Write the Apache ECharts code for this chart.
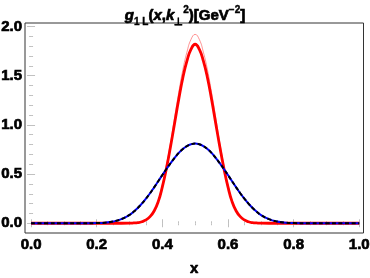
<!DOCTYPE html>
<html><head><meta charset="utf-8">
<script src="https://cdn.jsdelivr.net/npm/echarts@6/dist/echarts.min.js"></script>
<style>html,body{margin:0;padding:0;background:#fff}#c{width:370px;height:278px}</style>
</head><body><div id="c"></div>
<script>
const xs = [0, 0.05, 0.1, 0.15, 0.2, 0.225, 0.25, 0.275, 0.3, 0.3125, 0.325, 0.3375, 0.35, 0.3625, 0.375, 0.3875, 0.4, 0.4125, 0.425, 0.4375, 0.45, 0.4625, 0.475, 0.4875, 0.5,
  0.5125, 0.525, 0.5375, 0.55, 0.5625, 0.575, 0.5875, 0.6, 0.6125, 0.625, 0.6375, 0.65, 0.6625, 0.675, 0.6875, 0.7, 0.725, 0.75, 0.775, 0.8, 0.85, 0.9, 0.95, 1];
const redThick = [0, 0, 0, 0, 0, 0, 0, 0, 0.001, 0.003, 0.006, 0.015, 0.034, 0.068, 0.125, 0.22, 0.37, 0.56, 0.78, 1.02, 1.26, 1.48, 1.65, 1.77, 1.82,
  1.77, 1.65, 1.48, 1.26, 1.02, 0.78, 0.56, 0.37, 0.22, 0.125, 0.068, 0.034, 0.015, 0.006, 0.003, 0.001, 0, 0, 0, 0, 0, 0, 0, 0];
const redThin = [0, 0, 0, 0, 0, 0, 0, 0, 0.001, 0.003, 0.006, 0.016, 0.036, 0.072, 0.132, 0.232, 0.39, 0.59, 0.82, 1.08, 1.33, 1.56, 1.74, 1.87, 1.92,
  1.87, 1.74, 1.56, 1.33, 1.08, 0.82, 0.59, 0.39, 0.232, 0.132, 0.072, 0.036, 0.016, 0.006, 0.003, 0.001, 0, 0, 0, 0, 0, 0, 0, 0];
const blueSolid = [0, 0, 0, 0, 0.002, 0.006, 0.018, 0.042, 0.085, 0.117, 0.155, 0.2, 0.25, 0.305, 0.365, 0.427, 0.49, 0.552, 0.61, 0.665, 0.715, 0.755, 0.785, 0.803, 0.81,
  0.803, 0.785, 0.755, 0.715, 0.665, 0.61, 0.552, 0.49, 0.427, 0.365, 0.305, 0.25, 0.2, 0.155, 0.117, 0.085, 0.042, 0.018, 0.006, 0.002, 0, 0, 0, 0];
const blackDashed = [0, 0, 0, 0, 0.002, 0.006, 0.018, 0.042, 0.085, 0.117, 0.155, 0.2, 0.25, 0.305, 0.365, 0.427, 0.49, 0.552, 0.61, 0.665, 0.715, 0.755, 0.785, 0.803, 0.81,
  0.803, 0.785, 0.755, 0.715, 0.665, 0.61, 0.552, 0.49, 0.427, 0.365, 0.305, 0.25, 0.2, 0.155, 0.117, 0.085, 0.042, 0.018, 0.006, 0.002, 0, 0, 0, 0];
const xTickLabels = [0, 0.2, 0.4, 0.6, 0.8, 1.0];
const xMinorTicks = [0, 0.05, 0.1, 0.15, 0.2, 0.25, 0.3, 0.35, 0.4, 0.45, 0.5, 0.55, 0.6, 0.65, 0.7, 0.75, 0.8, 0.85, 0.9, 0.95, 1.0];
const yTickLabels = [0, 0.5, 1.0, 1.5, 2.0];
const yMinorTicks = [0, 0.1, 0.2, 0.3, 0.4, 0.5, 0.6, 0.7, 0.8, 0.9, 1.0, 1.1, 1.2, 1.3, 1.4, 1.5, 1.6, 1.7, 1.8, 1.9, 2.0];

const FONT = '"Liberation Sans", Arial, sans-serif';
const BORDER = { textBorderColor: '#000', textBorderWidth: 0.7 };
const pair = (arr) => xs.map((x, i) => [x, arr[i]]);
const XMIN = -0.0185, XMAX = 1.013, YMIN = -0.099, YMAX = 2.036;
const tickColor = '#c0c0c0';

function lab(extra) {
  return Object.assign({ color: '#000', fontWeight: 'bold', fontFamily: FONT }, BORDER, extra);
}
function xAx(pos, vals, len, labels, extra) {
  return Object.assign({
    type: 'value', position: pos, min: XMIN, max: XMAX,
    axisLine: { show: false }, splitLine: { show: false },
    axisTick: { show: true, inside: true, length: len, customValues: vals, lineStyle: { color: tickColor, width: 1 } },
    axisLabel: labels ? lab({ show: true, customValues: xTickLabels, formatter: v => v.toFixed(1), fontSize: 15, margin: 4 }) : { show: false }
  }, extra || {});
}
function yAx(pos, vals, len, labels) {
  return {
    type: 'value', position: pos, min: YMIN, max: YMAX,
    axisLine: { show: false }, splitLine: { show: false },
    axisTick: { show: true, inside: true, length: len, customValues: vals, lineStyle: { color: tickColor, width: 1 } },
    axisLabel: labels ? lab({ show: true, customValues: yTickLabels, formatter: v => v.toFixed(1), fontSize: 15, margin: 3 }) : { show: false }
  };
}

const chart = echarts.init(document.getElementById('c'), null, { renderer: 'canvas' });
chart.setOption({
  animation: false,
  backgroundColor: '#fff',
  title: {
    left: 'center', top: 0,
    text: '{i|g}{s|1 L}{n|(}{i|x}{n|,}{i|k}{s2|⊥}{p|2}{n|)[GeV}{p|−2}{n|]}',
    textStyle: {
      rich: {
        n: lab({ fontSize: 15, lineHeight: 22 }),
        i: lab({ fontSize: 15, fontStyle: 'italic', lineHeight: 22 }),
        s: lab({ fontSize: 10, verticalAlign: 'bottom', lineHeight: 15, textBorderWidth: 0.4 }),
        s2: lab({ fontSize: 10, verticalAlign: 'bottom', lineHeight: 14, textBorderWidth: 0.4 }),
        p: lab({ fontSize: 10, verticalAlign: 'top', lineHeight: 14, textBorderWidth: 0.4 })
      }
    }
  },
  grid: { left: 25, right: 6.5, top: 23, bottom: 45, outerBoundsMode: 'none', containLabel: false, show: true, borderColor: '#333', borderWidth: 1, backgroundColor: 'transparent' },
  xAxis: [
    xAx('bottom', xTickLabels, 4, true, { name: 'x', nameLocation: 'middle', nameGap: 28, nameTextStyle: lab({ fontSize: 15 }) }),
    xAx('bottom', xMinorTicks, 2, false),
    xAx('top', xTickLabels, 4, false),
    xAx('top', xMinorTicks, 2, false)
  ],
  yAxis: [
    yAx('left', yTickLabels, 4, true),
    yAx('left', yMinorTicks, 2, false),
    yAx('right', yTickLabels, 4, false),
    yAx('right', yMinorTicks, 2, false)
  ],
  series: [
    { type: 'line', data: pair(redThin), showSymbol: false, smooth: 0.5, lineStyle: { color: 'rgba(255,60,60,0.55)', width: 1 }, z: 2 },
    { type: 'line', data: pair(redThick), showSymbol: false, smooth: 0.5, lineStyle: { color: '#ff0000', width: 2.8 }, z: 3 },
    { type: 'line', data: pair(blueSolid), showSymbol: false, smooth: 0.5, lineStyle: { color: '#0000ff', width: 2 }, z: 4 },
    { type: 'line', data: pair(blackDashed), showSymbol: false, smooth: 0.5, lineStyle: { color: '#000', width: 2, type: [4, 2.5] }, z: 5 }
  ]
});
</script>
</body></html>
